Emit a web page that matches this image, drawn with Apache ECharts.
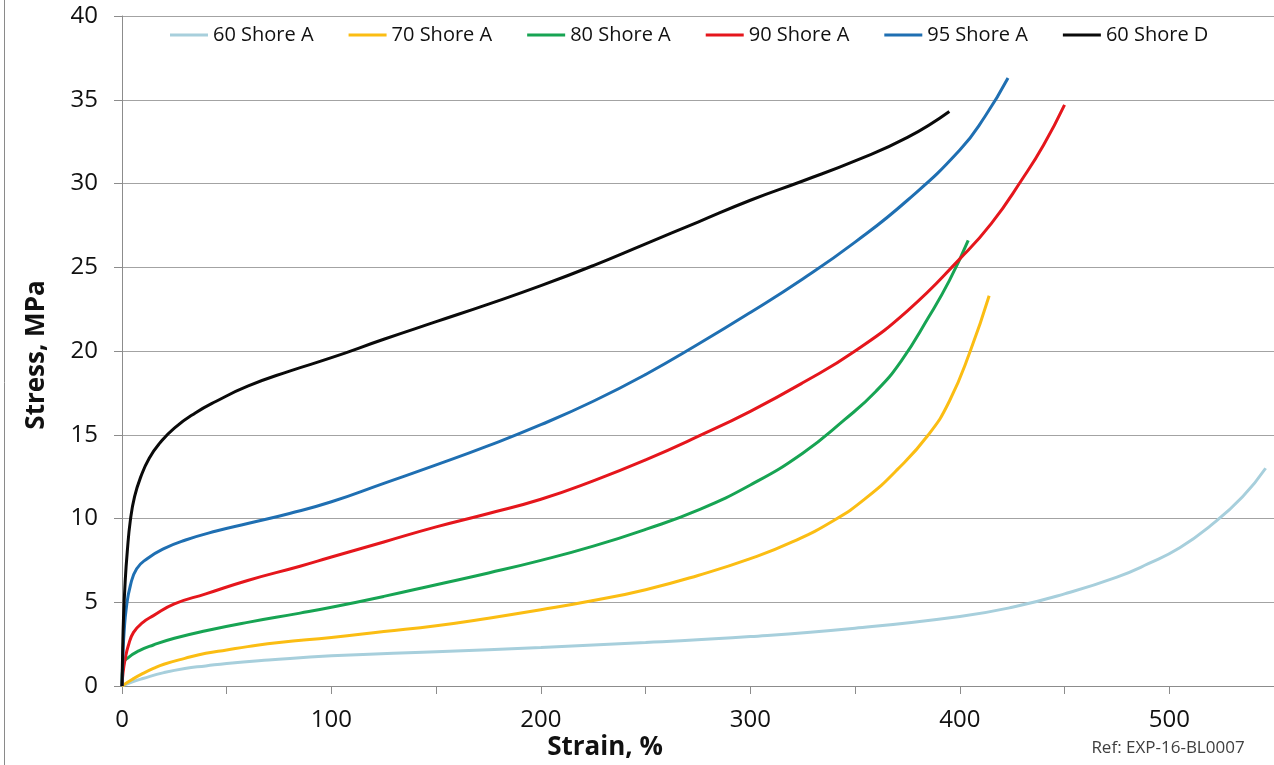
<!DOCTYPE html>
<html>
<head>
<meta charset="utf-8">
<title>Stress-strain curves</title>
<script src="https://cdn.jsdelivr.net/npm/echarts@6/dist/echarts.min.js"></script>
<style>
  html, body { margin: 0; padding: 0; background: #fff; }
  #chart { width: 1274px; height: 765px; }
</style>
</head>
<body>
<div id="chart"></div>
<script>
// Tensile curves, strain in %, stress in MPa
const seriesNames = ['60 Shore A', '70 Shore A', '80 Shore A', '90 Shore A', '95 Shore A', '60 Shore D'];

const strain60A = [0, 5, 10, 20, 30, 40, 50, 70, 100, 150, 200, 250, 300, 350, 400, 425, 450, 475, 490, 505, 520, 535, 546];
const stress60A = [0, 0.25, 0.45, 0.8, 1.05, 1.2, 1.35, 1.55, 1.8, 2.05, 2.3, 2.6, 2.95, 3.45, 4.15, 4.7, 5.5, 6.5, 7.3, 8.25, 9.6, 11.3, 13.0];

const strain70A = [0, 5, 10, 15, 20, 30, 40, 50, 60, 75, 100, 125, 150, 175, 200, 225, 250, 275, 300, 320, 340, 355, 370, 385, 395, 405, 414];
const stress70A = [0, 0.4, 0.75, 1.05, 1.3, 1.65, 1.95, 2.15, 2.35, 2.6, 2.9, 3.25, 3.6, 4.05, 4.55, 5.1, 5.75, 6.6, 7.6, 8.6, 9.9, 11.2, 12.9, 15.0, 17.0, 20.0, 23.3];

const strain80A = [0, 0.5, 3, 8, 15, 25, 40, 60, 85, 100, 125, 150, 175, 200, 225, 250, 275, 300, 325, 345, 360, 372, 385, 395, 404];
const stress80A = [0, 1.3, 1.7, 2.1, 2.45, 2.85, 3.3, 3.8, 4.35, 4.7, 5.35, 6.05, 6.75, 7.5, 8.35, 9.35, 10.5, 12.0, 13.9, 15.9, 17.6, 19.4, 22.0, 24.2, 26.6];

const strain90A = [0, 0.5, 1.5, 3, 5.5, 10, 15, 25, 40, 60, 85, 100, 125, 150, 175, 200, 225, 250, 275, 300, 325, 350, 375, 400, 415, 430, 440, 450];
const stress90A = [0, 0.8, 1.6, 2.4, 3.2, 3.8, 4.2, 4.9, 5.5, 6.3, 7.15, 7.7, 8.6, 9.5, 10.3, 11.15, 12.25, 13.5, 14.9, 16.4, 18.1, 20.0, 22.4, 25.5, 27.6, 30.3, 32.3, 34.7];

const strain95A = [0, 0.5, 1, 2, 4, 7, 12, 20, 30, 45, 60, 80, 100, 125, 150, 175, 200, 225, 250, 275, 300, 325, 350, 375, 400, 412, 423];
const stress95A = [0, 2.0, 3.2, 4.6, 6.0, 7.0, 7.6, 8.2, 8.7, 9.25, 9.7, 10.3, 11.0, 12.1, 13.2, 14.35, 15.6, 17.0, 18.6, 20.4, 22.3, 24.3, 26.5, 29.0, 32.0, 34.0, 36.3];

const strain60D = [0, 0.3, 0.7, 1.5, 2.5, 4, 6, 9, 13, 18, 25, 35, 45, 60, 80, 100, 125, 150, 175, 200, 225, 250, 275, 300, 325, 350, 375, 395];
const stress60D = [0, 2.0, 4.0, 6.2, 8.0, 9.9, 11.3, 12.5, 13.6, 14.5, 15.4, 16.3, 17.0, 17.9, 18.8, 19.6, 20.7, 21.75, 22.8, 23.9, 25.1, 26.4, 27.7, 29.0, 30.15, 31.35, 32.75, 34.3];

const xTicks = { min: 0, max: 550, step: 50 };
const yTicks = { min: 0, max: 40, step: 5 };

const curveX = [strain60A, strain70A, strain80A, strain90A, strain95A, strain60D];
const curveY = [stress60A, stress70A, stress80A, stress90A, stress95A, stress60D];
const colors = ['#a7cfdc', '#fbbd13', '#17a453', '#e5161c', '#1f6fb2', '#0a0a0a'];

const zip = (xs, ys) => xs.map((x, i) => [x, ys[i]]);

const FONT = '"Open Sans", "Noto Sans", sans-serif';

const chart = echarts.init(document.getElementById('chart'), null, { renderer: 'canvas' });

chart.setOption({
  animation: false,
  backgroundColor: '#ffffff',
  color: colors,
  grid: { left: 122, right: 0, top: 16, bottom: 79, containLabel: false, outerBoundsMode: 'none' },
  legend: {
    top: 20,
    left: 165,
    itemWidth: 38,
    itemHeight: 3,
    itemGap: 35,
    icon: 'rect',
    textStyle: { fontFamily: FONT, fontSize: 20, color: '#111' },
    data: seriesNames
  },
  xAxis: {
    type: 'value',
    min: xTicks.min,
    max: xTicks.max,
    interval: xTicks.step,
    axisLine: { show: true, lineStyle: { color: '#8c8c8c', width: 1 } },
    axisTick: { show: true, inside: false, length: 8, lineStyle: { color: '#8c8c8c' } },
    splitLine: { show: false },
    axisLabel: {
      margin: 22,
      fontFamily: FONT,
      fontSize: 24,
      color: '#111',
      formatter: v => (v % 100 === 0 ? String(v) : '')
    }
  },
  yAxis: {
    type: 'value',
    min: yTicks.min,
    max: yTicks.max,
    interval: yTicks.step,
    axisLine: { show: true, lineStyle: { color: '#8c8c8c', width: 1 } },
    axisTick: { show: true, inside: false, length: 8, lineStyle: { color: '#8c8c8c' } },
    splitLine: { show: true, lineStyle: { color: '#a3a3a3', width: 1 } },
    axisLabel: { margin: 24, fontFamily: FONT, fontSize: 24, color: '#111' }
  },
  graphic: [
    { type: 'line', shape: { x1: 4.5, y1: 0, x2: 4.5, y2: 765 }, style: { stroke: '#8a8a8a', lineWidth: 1 } },
    {
      type: 'text', x: 37, y: 355, rotation: Math.PI / 2,
      style: { text: 'Stress, MPa', fontFamily: FONT, fontWeight: 'bold', fontSize: 26, fill: '#111', align: 'center', verticalAlign: 'middle' }
    },
    {
      type: 'text', x: 605, y: 748,
      style: { text: 'Strain, %', fontFamily: FONT, fontWeight: 'bold', fontSize: 26, fill: '#111', align: 'center', verticalAlign: 'middle' }
    },
    {
      type: 'text', x: 1168, y: 748,
      style: { text: 'Ref: EXP-16-BL0007', fontFamily: FONT, fontSize: 17, fill: '#404040', align: 'center', verticalAlign: 'middle' }
    }
  ],
  series: seriesNames.map((name, i) => ({
    name,
    type: 'line',
    data: zip(curveX[i], curveY[i]),
    showSymbol: false,
    smooth: 0.5,
    lineStyle: { width: 3, color: colors[i] },
    itemStyle: { color: colors[i] },
    z: 2 + i
  }))
});
</script>
</body>
</html>
